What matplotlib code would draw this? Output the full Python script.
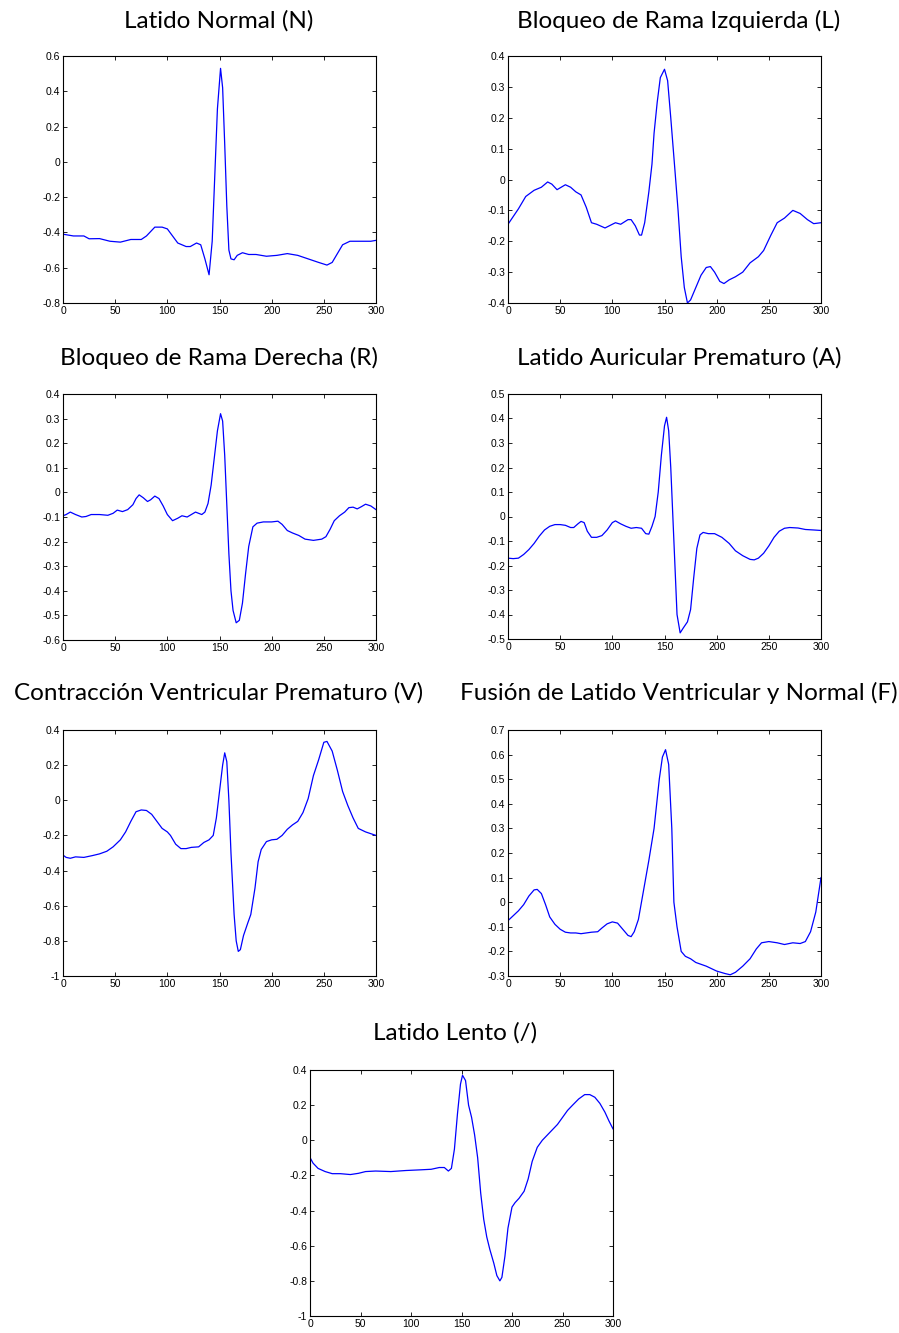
import numpy as np
import matplotlib.pyplot as plt
from matplotlib.ticker import FuncFormatter

# latidos promedio (muestra, amplitud)
n_x = [0, 10, 20, 25, 35, 45, 55, 65, 75, 80, 88, 95, 100, 105, 110, 118, 122, 128, 132, 136, 140,
       143, 146, 148, 151, 153, 155, 157, 159, 161, 164, 167, 172, 178, 185, 195, 205, 215, 225,
       235, 245, 253, 258, 263, 268, 275, 285, 295, 300]
n_y = [-0.41, -0.42, -0.42, -0.436, -0.435, -0.45, -0.455, -0.44, -0.44, -0.42, -0.37, -0.37,
       -0.38, -0.42, -0.46, -0.48, -0.48, -0.46, -0.47, -0.55, -0.64, -0.45, 0.0, 0.3, 0.53, 0.42,
       0.1, -0.25, -0.5, -0.55, -0.555, -0.53, -0.515, -0.525, -0.525, -0.535, -0.53, -0.52, -0.53,
       -0.55, -0.57, -0.585, -0.57, -0.52, -0.47, -0.45, -0.45, -0.45, -0.445]

l_x = [0, 5, 10, 17, 25, 32, 38, 42, 47, 55, 60, 65, 70, 75, 80, 85, 93, 100, 103, 108, 115, 118,
       122, 126, 128, 131, 135, 138, 140, 143, 146, 150, 153, 156, 160, 163, 166, 169, 172, 175,
       180, 185, 190, 194, 198, 203, 207, 212, 218, 225, 232, 240, 245, 252, 258, 265, 273, 280,
       287, 293, 300]
l_y = [-0.145, -0.12, -0.095, -0.055, -0.035, -0.025, -0.008, -0.015, -0.033, -0.017, -0.025,
       -0.04, -0.05, -0.09, -0.14, -0.145, -0.157, -0.145, -0.14, -0.145, -0.13, -0.13, -0.15,
       -0.18, -0.18, -0.14, -0.04, 0.05, 0.15, 0.25, 0.33, 0.357, 0.32, 0.2, 0.03, -0.1, -0.25,
       -0.35, -0.4, -0.39, -0.35, -0.31, -0.285, -0.282, -0.3, -0.33, -0.337, -0.325, -0.315, -0.3,
       -0.27, -0.25, -0.23, -0.18, -0.14, -0.125, -0.1, -0.11, -0.13, -0.143, -0.14]

r_x = [0, 3, 7, 12, 18, 22, 27, 35, 43, 48, 52, 57, 62, 67, 70, 73, 77, 81, 84, 88, 92, 96, 100,
       105, 110, 114, 119, 123, 127, 133, 136, 139, 142, 145, 148, 151, 153, 155, 157, 159, 161,
       163, 166, 169, 172, 175, 178, 182, 186, 192, 200, 206, 210, 215, 220, 226, 232, 240, 248,
       252, 256, 260, 265, 270, 274, 278, 282, 286, 290, 295, 300]
r_y = [-0.095, -0.09, -0.08, -0.09, -0.1, -0.098, -0.09, -0.09, -0.093, -0.085, -0.072, -0.078,
       -0.07, -0.05, -0.025, -0.01, -0.022, -0.037, -0.03, -0.015, -0.025, -0.055, -0.09, -0.115,
       -0.105, -0.095, -0.1, -0.09, -0.08, -0.09, -0.08, -0.045, 0.03, 0.14, 0.25, 0.32, 0.29, 0.15,
       -0.05, -0.25, -0.4, -0.48, -0.53, -0.52, -0.45, -0.33, -0.22, -0.14, -0.125, -0.12, -0.12,
       -0.117, -0.13, -0.155, -0.165, -0.175, -0.19, -0.195, -0.19, -0.18, -0.15, -0.115, -0.095,
       -0.08, -0.062, -0.06, -0.067, -0.058, -0.048, -0.055, -0.07]

a_x = [0, 5, 10, 15, 20, 25, 30, 35, 40, 45, 50, 55, 60, 63, 67, 70, 73, 76, 80, 85, 90, 95, 100,
       103, 108, 113, 118, 123, 128, 132, 135, 138, 141, 144, 147, 150, 152, 154, 156, 158, 160,
       162, 165, 168, 172, 175, 178, 181, 184, 187, 192, 198, 205, 212, 218, 225, 232, 236, 240,
       245, 250, 255, 260, 265, 270, 278, 285, 293, 300]
a_y = [-0.17, -0.172, -0.17, -0.155, -0.135, -0.11, -0.08, -0.055, -0.04, -0.033, -0.033, -0.036,
       -0.045, -0.045, -0.03, -0.02, -0.025, -0.06, -0.085, -0.085, -0.078, -0.055, -0.025, -0.018,
       -0.03, -0.04, -0.048, -0.045, -0.048, -0.07, -0.072, -0.04, 0.0, 0.1, 0.25, 0.37, 0.405,
       0.35, 0.2, 0.0, -0.2, -0.4, -0.475, -0.455, -0.43, -0.38, -0.25, -0.13, -0.075, -0.065,
       -0.07, -0.07, -0.085, -0.11, -0.14, -0.16, -0.175, -0.177, -0.17, -0.15, -0.12, -0.085,
       -0.06, -0.048, -0.045, -0.047, -0.053, -0.055, -0.057]

v_x = [0, 3, 7, 12, 20, 28, 35, 42, 48, 55, 60, 65, 70, 75, 80, 85, 90, 95, 100, 103, 108, 113,
       118, 123, 130, 135, 140, 144, 147, 150, 153, 155, 157, 159, 161, 164, 166, 168, 170, 173,
       177, 180, 184, 187, 190, 195, 200, 205, 210, 215, 220, 225, 230, 235, 240, 245, 250, 253,
       258, 263, 268, 273, 278, 283, 290, 295, 300]
v_y = [-0.312, -0.325, -0.33, -0.322, -0.325, -0.315, -0.305, -0.29, -0.265, -0.225, -0.18, -0.12,
       -0.065, -0.055, -0.058, -0.08, -0.12, -0.16, -0.18, -0.2, -0.25, -0.275, -0.275, -0.268,
       -0.265, -0.24, -0.225, -0.2, -0.1, 0.05, 0.2, 0.27, 0.22, 0.0, -0.3, -0.65, -0.8, -0.86,
       -0.85, -0.77, -0.7, -0.65, -0.5, -0.35, -0.28, -0.235, -0.225, -0.222, -0.2, -0.165, -0.14,
       -0.12, -0.07, 0.01, 0.14, 0.23, 0.33, 0.335, 0.28, 0.17, 0.05, -0.03, -0.1, -0.16, -0.18,
       -0.19, -0.2]

f_x = [0, 5, 10, 15, 20, 25, 28, 32, 36, 40, 45, 50, 55, 60, 65, 70, 75, 80, 86, 90, 95, 100, 105,
       110, 115, 118, 121, 125, 130, 135, 140, 145, 148, 151, 154, 157, 159, 162, 166, 170, 175,
       180, 190, 200, 208, 213, 218, 225, 232, 238, 243, 250, 258, 265, 273, 280, 285, 290, 295, 300]
f_y = [-0.075, -0.055, -0.035, -0.01, 0.025, 0.05, 0.052, 0.035, -0.01, -0.06, -0.09, -0.11,
       -0.122, -0.125, -0.125, -0.128, -0.125, -0.122, -0.12, -0.105, -0.088, -0.08, -0.085, -0.11,
       -0.135, -0.14, -0.12, -0.07, 0.05, 0.17, 0.3, 0.5, 0.59, 0.62, 0.56, 0.3, 0.0, -0.1, -0.2,
       -0.22, -0.23, -0.245, -0.26, -0.28, -0.29, -0.295, -0.285, -0.26, -0.23, -0.19, -0.165,
       -0.16, -0.165, -0.172, -0.165, -0.168, -0.16, -0.12, -0.04, 0.1]

p_x = [0, 3, 8, 15, 22, 30, 40, 48, 55, 65, 80, 95, 110, 120, 128, 133, 137, 140, 143, 146, 149,
       151, 154, 157, 160, 163, 166, 169, 172, 175, 178, 182, 185, 188, 190, 193, 196, 200, 203,
       207, 212, 216, 220, 225, 230, 235, 240, 245, 250, 255, 260, 266, 272, 277, 282, 287, 292,
       296, 300]
p_y = [-0.098, -0.13, -0.16, -0.178, -0.19, -0.19, -0.195, -0.188, -0.178, -0.175, -0.178, -0.172,
       -0.168, -0.165, -0.155, -0.155, -0.175, -0.16, -0.05, 0.15, 0.32, 0.37, 0.34, 0.2, 0.13,
       0.03, -0.1, -0.3, -0.45, -0.55, -0.62, -0.7, -0.77, -0.8, -0.78, -0.66, -0.5, -0.38, -0.355,
       -0.33, -0.29, -0.22, -0.12, -0.04, 0.0, 0.03, 0.06, 0.09, 0.13, 0.17, 0.2, 0.235, 0.26,
       0.26, 0.245, 0.21, 0.16, 0.11, 0.065]

titles = ["Latido Normal (N)", "Bloqueo de Rama Izquierda (L)",
          "Bloqueo de Rama Derecha (R)", "Latido Auricular Prematuro (A)",
          "Contracción Ventricular Prematuro (V)", "Fusión de Latido Ventricular y Normal (F)",
          "Latido Lento (/)"]
series = [(n_x, n_y), (l_x, l_y), (r_x, r_y), (a_x, a_y), (v_x, v_y), (f_x, f_y), (p_x, p_y)]
ylims = [(-0.8, 0.6), (-0.4, 0.4), (-0.6, 0.4), (-0.5, 0.5), (-1, 0.4), (-0.3, 0.7), (-1, 0.4)]
ysteps = [0.2, 0.1, 0.1, 0.1, 0.2, 0.1, 0.2]

W, H = 899, 1333
# cajas de ejes en pixeles: izquierda, arriba, derecha, abajo
boxes = [(63, 56, 376, 303), (508, 56, 821, 303),
         (63, 394, 376, 640), (508, 394, 821, 639),
         (63, 730, 376, 976), (508, 730, 821, 976),
         (310, 1070, 613, 1316)]
title_pos = [(219, 21), (679, 21), (219, 358), (679, 358), (219, 693), (679, 693), (455, 1033)]

plt.rcParams['font.family'] = ['Liberation Sans', 'DejaVu Sans']
fig = plt.figure(figsize=(W / 100, H / 100), dpi=100)

fmt = FuncFormatter(lambda v, p: '%g' % round(v, 3) if abs(v) > 1e-9 else '0')

for i, (xs, ys) in enumerate(series):
    l, t, r, b = boxes[i]
    ax = fig.add_axes([l / W, 1 - b / H, (r - l) / W, (b - t) / H])
    ax.plot(xs, ys, color=(0, 0, 1), lw=0.9)
    ax.set_xlim(0, 300)
    ax.set_ylim(*ylims[i])
    ax.set_xticks(np.arange(0, 301, 50))
    lo, hi = ylims[i]
    ax.set_yticks(np.round(np.arange(lo, hi + 1e-9, ysteps[i]), 2))
    ax.yaxis.set_major_formatter(fmt)
    ax.tick_params(direction='in', top=True, right=True, length=3, width=0.6,
                   labelsize=7.5, pad=2)
    for s in ax.spines.values():
        s.set_linewidth(0.8)
    tx, ty = title_pos[i]
    fig.text(tx / W, 1 - ty / H, titles[i], ha='center', va='center',
             fontsize=17.5, family=['Lato', 'DejaVu Sans'])

plt.savefig("out.png", dpi=100)
